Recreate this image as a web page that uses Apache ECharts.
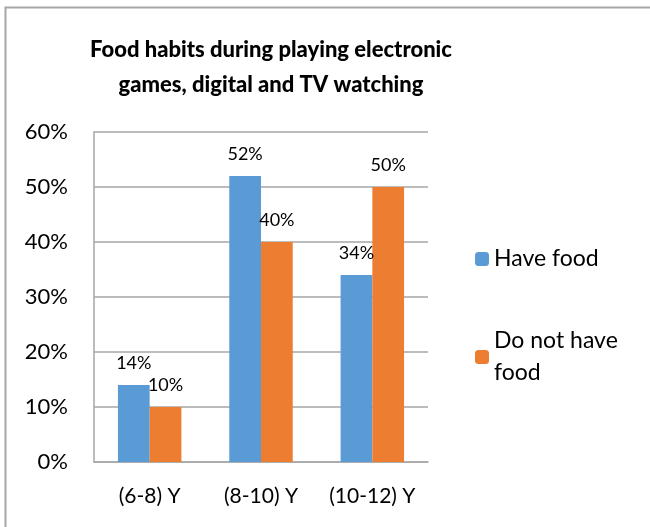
<!DOCTYPE html>
<html>
<head>
<meta charset="utf-8">
<script src="https://cdn.jsdelivr.net/npm/echarts@6/dist/echarts.min.js"></script>
<style>
html,body{margin:0;padding:0;background:#fff;}
#c{width:650px;height:527px;}
</style>
</head>
<body>
<div id="c"></div>
<script>
var categories = ['(6-8) Y', '(8-10) Y', '(10-12) Y'];
var haveFood = [14, 52, 34];
var noFood = [10, 40, 50];
var seriesNames = ['Have food', 'Do not have\nfood'];
var yTicks = [0, 10, 20, 30, 40, 50, 60];

var FONT = 'Lato';
var chart = echarts.init(document.getElementById('c'));
chart.setOption({
  backgroundColor: '#ffffff',
  animation: false,
  title: {
    text: 'Food habits during playing electronic\ngames, digital and TV watching',
    left: 266, top: 27, textAlign: 'center',
    textStyle: {fontFamily: FONT, fontSize: 22, fontWeight: 900, color: '#000', lineHeight: 35}
  },
  graphic: [
    {type: 'polyline', shape: {points: [[5.5, 527], [5.5, 7.5], [650, 7.5]]}, style: {stroke: '#a6a6a6', lineWidth: 2, fill: null}}
  ],
  legend: {
    orient: 'vertical', left: 470, top: 238, itemWidth: 14, itemHeight: 14, itemGap: 50,
    textStyle: {fontFamily: FONT, fontSize: 23, color: '#000', lineHeight: 32},
    data: seriesNames
  },
  grid: {left: 94, right: 222, top: 132, bottom: 65},
  xAxis: {
    type: 'category', data: categories,
    axisLine: {lineStyle: {color: '#a6a6a6', width: 1.5}},
    axisTick: {show: false},
    axisLabel: {interval: 0, hideOverlap: false, fontFamily: FONT, fontSize: 21, color: '#000', margin: 24}
  },
  yAxis: {
    type: 'value', min: 0, max: 60, interval: 10,
    axisLine: {show: true, lineStyle: {color: '#a6a6a6', width: 1.5}},
    splitLine: {lineStyle: {color: '#a6a6a6', width: 1.5}},
    axisLabel: {fontFamily: FONT, fontSize: 22, color: '#000', margin: 26,
      formatter: function (v) { return v + '%'; }}
  },
  series: [
    {name: seriesNames[0], type: 'bar', data: haveFood, barGap: '0%', barCategoryGap: '43%',
     itemStyle: {color: '#5b9bd5'},
     label: {show: true, position: 'top', distance: 13, fontFamily: FONT, fontSize: 18, color: '#000', formatter: '{c}%'}},
    {name: seriesNames[1], type: 'bar', data: noFood,
     itemStyle: {color: '#ed7d31'},
     label: {show: true, position: 'top', distance: 13, fontFamily: FONT, fontSize: 18, color: '#000', formatter: '{c}%'}}
  ]
});
</script>
</body>
</html>
